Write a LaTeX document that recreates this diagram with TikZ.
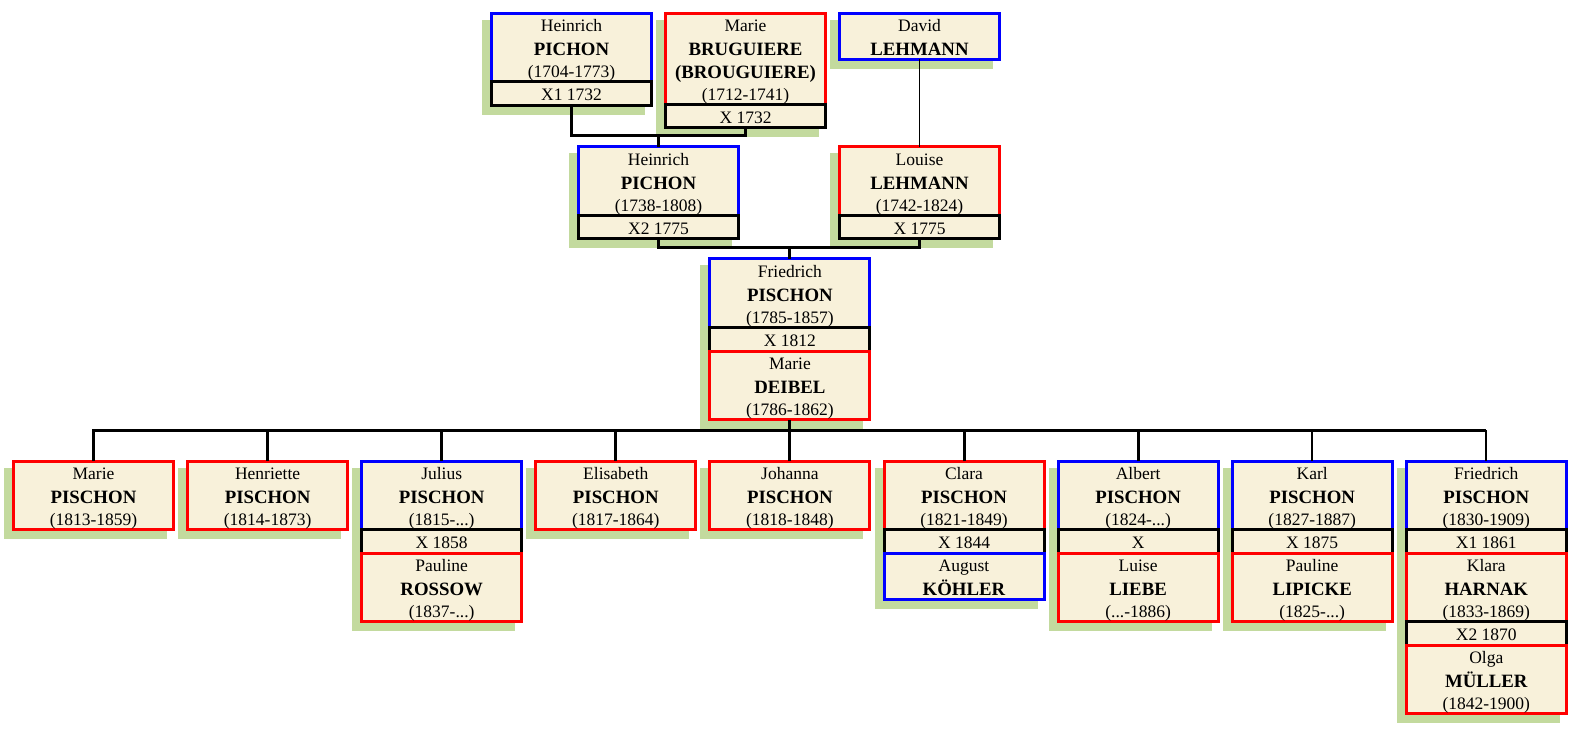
\documentclass[tikz,border=0pt]{standalone}
\usepackage{fontspec}
\setmainfont{Liberation Serif}
\definecolor{cream}{HTML}{F8F1DA}
\definecolor{shadgreen}{HTML}{C3DA9E}
\newcommand\fgv{\fontsize{17.5}{20}\selectfont}
\newcommand\fsn{\fontsize{18.8}{22}\selectfont\bfseries}
\tikzset{
  secstyle/.style={rectangle,fill=cream,line width=3pt,minimum width=160pt,inner sep=0pt,outer sep=0pt},
  gv/.style={anchor=base,inner sep=0pt,font=\fgv},
  sn/.style={anchor=base,inner sep=0pt,font=\fsn},
  shad/.style={fill=shadgreen},
  conn/.style={line width=3pt,line join=miter},
  thinconn/.style={line width=1.8pt}
}
\newcommand\secbox[5]{\node[secstyle,draw=#5,minimum height=#4pt] (#1) at (#2,{#3+#4/2}) {};}
\newcommand\pthree[7]{%
  \secbox{#1}{#2}{#3}{68.5}{#4}
  \node[gv] (#1a) at (#2,{#3+18.5}) {#5};
  \node[sn] (#1b) at (#2,{#3+42.5}) {#6};
  \node[gv] (#1c) at (#2,{#3+64.5}) {#7};}
\newcommand\ptwo[6]{%
  \secbox{#1}{#2}{#3}{46}{#4}
  \node[gv] (#1a) at (#2,{#3+18.5}) {#5};
  \node[sn] (#1b) at (#2,{#3+42.5}) {#6};}
\newcommand\marbox[4]{%
  \secbox{#1}{#2}{#3}{23.5}{black}
  \node[gv] (#1a) at (#2,{#3+19}) {#4};}
\newcommand\famshadow[3]{\fill[shad] ({#1-89.5},{#2+6.5}) rectangle ({#1+73.5},{#3+9.5});}
\begin{document}
\begin{tikzpicture}[x=1pt,y=-1pt]
\useasboundingbox (0,0) rectangle (1575,730);
% shadows
\famshadow{571.5}{13.5}{105.5}
\famshadow{745.5}{13.5}{128}
\famshadow{919.5}{13.5}{59.5}
\famshadow{658.5}{147}{239}
\famshadow{919.5}{147}{239}
\famshadow{789.9}{259}{419.5}
\famshadow{93.5}{461}{529.5}
\famshadow{267.6}{461}{529.5}
\famshadow{441.7}{461}{621.5}
\famshadow{615.8}{461}{529.5}
\famshadow{789.9}{461}{529.5}
\famshadow{964.0}{461}{599}
\famshadow{1138.1}{461}{621.5}
\famshadow{1312.2}{461}{621.5}
\famshadow{1486.3}{461}{713.5}
% boxes: top row
\pthree{ha}{571.5}{13.5}{blue}{Heinrich}{PICHON}{(1704-1773)}
\marbox{ham}{571.5}{82}{X1 1732}
\secbox{ma}{745.5}{13.5}{91}{red}
\node[gv] (maa) at (745.5,32) {Marie};
\node[sn] (mab) at (745.5,56) {BRUGUIERE};
\node[sn] (mac) at (745.5,78.5) {(BROUGUIERE)};
\node[gv] (mad) at (745.5,101) {(1712-1741)};
\marbox{mam}{745.5}{104.5}{X 1732}
\ptwo{da}{919.5}{13.5}{blue}{David}{LEHMANN}
% second row
\pthree{hb}{658.5}{147}{blue}{Heinrich}{PICHON}{(1738-1808)}
\marbox{hbm}{658.5}{215.5}{X2 1775}
\pthree{lb}{919.5}{147}{red}{Louise}{LEHMANN}{(1742-1824)}
\marbox{lbm}{919.5}{215.5}{X 1775}
% Friedrich
\pthree{fr}{789.9}{259}{blue}{Friedrich}{PISCHON}{(1785-1857)}
\marbox{frm}{789.9}{327.5}{X 1812}
\pthree{frs}{789.9}{351}{red}{Marie}{DEIBEL}{(1786-1862)}
% children
\pthree{ca}{93.5}{461}{red}{Marie}{PISCHON}{(1813-1859)}
\pthree{cb}{267.6}{461}{red}{Henriette}{PISCHON}{(1814-1873)}
\pthree{cc}{441.7}{461}{blue}{Julius}{PISCHON}{(1815-...)}
\marbox{ccm}{441.7}{529.5}{X 1858}
\pthree{ccs}{441.7}{553}{red}{Pauline}{ROSSOW}{(1837-...)}
\pthree{cd}{615.8}{461}{red}{Elisabeth}{PISCHON}{(1817-1864)}
\pthree{ce}{789.9}{461}{red}{Johanna}{PISCHON}{(1818-1848)}
\pthree{cf}{964.0}{461}{red}{Clara}{PISCHON}{(1821-1849)}
\marbox{cfm}{964.0}{529.5}{X 1844}
\ptwo{cfs}{964.0}{553}{blue}{August}{KÖHLER}
\pthree{cg}{1138.1}{461}{blue}{Albert}{PISCHON}{(1824-...)}
\marbox{cgm}{1138.1}{529.5}{X}
\pthree{cgs}{1138.1}{553}{red}{Luise}{LIEBE}{(...-1886)}
\pthree{ch}{1312.2}{461}{blue}{Karl}{PISCHON}{(1827-1887)}
\marbox{chm}{1312.2}{529.5}{X 1875}
\pthree{chs}{1312.2}{553}{red}{Pauline}{LIPICKE}{(1825-...)}
\pthree{ci}{1486.3}{461}{blue}{Friedrich}{PISCHON}{(1830-1909)}
\marbox{cim}{1486.3}{529.5}{X1 1861}
\pthree{cis}{1486.3}{553}{red}{Klara}{HARNAK}{(1833-1869)}
\marbox{cim2}{1486.3}{621.5}{X2 1870}
\pthree{cis2}{1486.3}{645}{red}{Olga}{MÜLLER}{(1842-1900)}
% connectors
\coordinate (j1) at (658.5,135.5);
\coordinate (j2) at (789.9,248);
\coordinate (j3) at (789.9,430);
\draw[conn] (ham.south) |- (j1) -| (mam.south);
\draw[conn] (j1) -- (hb.north);
\draw[thinconn] (da.south) -- (lb.north);
\draw[conn] (hbm.south) |- (j2) -| (lbm.south);
\draw[conn] (j2) -- (fr.north);
\draw[conn] (frs.south) -- (j3);
\draw[conn] (ca.north) |- (j3) -- (j3 -| ci.north);
\foreach \c in {cb,cc,cd,ce,cf,cg} {\draw[conn] (\c.north) -- (\c.north |- j3);}
\foreach \c in {ch,ci} {\draw[thinconn] (\c.north) -- (\c.north |- j3);}
\end{tikzpicture}
\end{document}
